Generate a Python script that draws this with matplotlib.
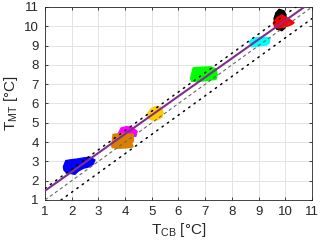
import matplotlib
matplotlib.use("Agg")
import matplotlib.pyplot as plt

plt.rcParams['font.family'] = ['Liberation Sans', 'DejaVu Sans']
plt.rcParams['mathtext.fontset'] = 'custom'
plt.rcParams['mathtext.rm'] = 'Liberation Sans'
plt.rcParams['mathtext.it'] = 'Liberation Sans'

# cluster outlines (T_CB, T_MT)
blue_x = [1.69, 1.78, 1.95, 2.19, 2.45, 2.69, 2.87, 2.80, 2.65, 2.43, 2.25, 2.12, 1.95, 1.81, 1.71]
blue_y = [2.73, 3.04, 3.08, 3.12, 3.18, 3.22, 3.07, 2.85, 2.72, 2.64, 2.50, 2.33, 2.38, 2.41, 2.55]
magenta_x = [3.75, 3.85, 4.05, 4.28, 4.45, 4.40, 4.00, 3.75]
magenta_y = [4.45, 4.73, 4.80, 4.76, 4.55, 4.30, 4.30, 4.30]
orange_x = [3.50, 3.55, 3.80, 4.05, 4.30, 4.31, 4.25, 4.30, 4.05, 3.75, 3.52]
orange_y = [3.78, 4.40, 4.44, 4.42, 4.40, 4.05, 3.95, 3.75, 3.70, 3.68, 3.72]
yellow_x = [4.82, 4.95, 5.15, 5.35, 5.42, 5.38, 5.20, 5.00, 4.85]
yellow_y = [5.40, 5.70, 5.85, 5.80, 5.55, 5.30, 5.15, 5.15, 5.25]
green_x = [6.45, 6.55, 6.90, 7.20, 7.40, 7.45, 7.40, 7.10, 6.80, 6.50, 6.45]
green_y = [7.30, 7.85, 7.88, 7.90, 7.80, 7.50, 7.25, 7.20, 7.15, 7.15, 7.30]
cyan_x = [8.65, 8.80, 9.05, 9.25, 9.43, 9.40, 9.30, 9.00, 8.74]
cyan_y = [9.20, 9.38, 9.43, 9.42, 9.38, 9.15, 9.03, 8.98, 8.94]
black_x = [9.77, 9.95, 10.02, 10.05, 9.98, 9.87, 9.68, 9.60, 9.58, 9.65]
black_y = [10.88, 10.80, 10.60, 10.20, 9.90, 9.77, 9.85, 10.10, 10.41, 10.70]
red_x = [9.55, 9.70, 9.87, 10.11, 10.33, 10.25, 10.11, 9.90, 9.74, 9.60]
red_y = [10.16, 10.45, 10.59, 10.41, 10.19, 10.10, 10.02, 9.95, 9.90, 10.00]

# reference lines
line_x = [1, 11]
identity_y = [1, 11]
fit_y = [1.48, 11.28]
upper_y = [1.6, 11.6]
lower_y = [0.4, 10.4]

ticks = list(range(1, 12))

fig = plt.figure(figsize=(3.2, 2.47), dpi=100)
ax = fig.add_axes([0.1406, 0.1903, 0.8344, 0.7814])

clusters = [
    (blue_x, blue_y, '#0000FF'),
    (magenta_x, magenta_y, '#FF00FF'),
    (orange_x, orange_y, '#DB7F00'),
    (yellow_x, yellow_y, '#FFCC00'),
    (green_x, green_y, '#00FF00'),
    (cyan_x, cyan_y, '#00FFFF'),
    (black_x, black_y, '#000000'),
    (red_x, red_y, '#FF0000'),
]
for cx, cy, col in clusters:
    ax.fill(cx, cy, color=col, lw=1.0, ec=col, zorder=2)

ax.plot(line_x, identity_y, color='#666666', lw=0.8, ls=(0, (3, 2.5)), zorder=3)
ax.plot(line_x, fit_y, color='#7E2F8E', lw=1.5, zorder=4)
for yy in (upper_y, lower_y):
    ax.plot(line_x, yy, color='black', lw=1.1, ls=(0, (0.9, 3.4)),
            dash_capstyle='round', zorder=5)

ax.set_xlim(1, 11)
ax.set_ylim(1, 11)
ax.set_xticks(ticks)
ax.set_yticks(ticks)
ax.grid(True, color='#E3E3E3', lw=0.7, zorder=0)
ax.set_axisbelow(True)
ax.tick_params(direction='in', length=2.5, width=0.6, top=True, right=True,
               labelsize=9.5, colors='#262626', pad=4.5)
for sp in ax.spines.values():
    sp.set_color('#262626')
    sp.set_linewidth(0.6)

ax.set_xlabel(r'T$_{\mathrm{CB}}$ [°C]', fontsize=11, color='#262626', labelpad=2)
ax.set_ylabel(r'T$_{\mathrm{MT}}$ [°C]', fontsize=11, color='#262626', labelpad=3)

fig.savefig('out.png', dpi=100)
